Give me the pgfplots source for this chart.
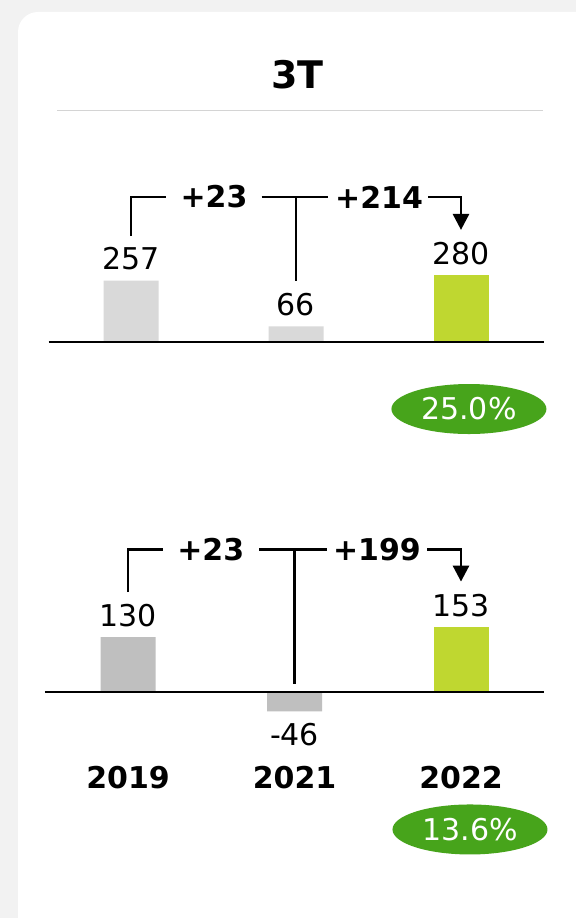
\documentclass[border=0pt]{standalone}
\usepackage{fontspec}
\setmainfont{DejaVu Sans}
\usepackage{pgfplots}
\pgfplotsset{compat=1.18}
\usetikzlibrary{arrows.meta,shapes.geometric}
\definecolor{cardbg}{HTML}{F2F2F2}
\definecolor{barA}{HTML}{D9D9D9}
\definecolor{barB}{HTML}{BFBFBF}
\definecolor{lime}{HTML}{BFD730}
\definecolor{pillgreen}{HTML}{47A41B}
\definecolor{rulegray}{HTML}{D4D4D4}
\begin{document}
\begin{tikzpicture}[x=1pt,y=1pt]
\useasboundingbox (0,0) rectangle (576,918);
\fill[cardbg] (0,0) rectangle (576,918);
\fill[white, rounded corners=20pt] (18,-30) rectangle (600,906);
\node[font=\bfseries\fontsize{38}{40}\selectfont, inner sep=0] at (297.5,843.5) {3T};
\draw[rulegray, line width=1pt] (57,807) -- (543,807);
\coordinate (c1) at (48.5,556.92);
\coordinate (c2) at (44.75,183.7);

\tikzset{conn/.style={line width=2.8pt, black},
  lbl/.style={font=\fontsize{30}{32}\selectfont, inner sep=0, anchor=base},
  dlt/.style={font=\bfseries\fontsize{30}{32}\selectfont, inner sep=0},
  pill/.style={ellipse, fill=pillgreen, minimum width=155pt, minimum height=50pt, inner sep=0, text=white, font=\fontsize{30}{32}\selectfont}}

% ---- chart 1 ----
\begin{axis}[at={(c1)}, anchor=south west, x=165pt, y=0.2385pt,
  xmin=-0.5, xmax=2.5, ymin=-80, ymax=650, hide axis, clip=false,
  ybar, bar width=55pt]
\addplot[fill=barA, draw=none, bar shift=0pt] coordinates {(0,257) (1,66)};
\addplot[fill=lime, draw=none, bar shift=0pt] coordinates {(2,280)};
\draw[line width=2.2pt] (axis cs:-0.5,0) -- (axis cs:2.5,0);
\draw[conn] (axis cs:0,444) |- (axis cs:0.212,608);
\draw[conn] (axis cs:0.792,608) -- (axis cs:1.194,608);
\draw[conn] (axis cs:1,608) -- (axis cs:1,256);
\draw[conn, -{Triangle[width=16pt,length=16pt]}] (axis cs:1.8,608) -| (axis cs:2,470);
\node[dlt] at (axis cs:0.503,608) {+23};
\node[dlt] at (axis cs:1.503,608) {+214};
\node[lbl, yshift=11pt] at (axis cs:0,257) {257};
\node[lbl, yshift=11pt] at (axis cs:1,66) {66};
\node[lbl, yshift=11pt] at (axis cs:2,280) {280};
\node[pill] at (axis cs:2.048,-281) {25.0\%};
\end{axis}

% ---- chart 2 ----
\begin{axis}[at={(c2)}, anchor=south west, x=166.5pt, y=0.423pt,
  xmin=-0.5, xmax=2.5, ymin=-100, ymax=360, hide axis, clip=false,
  ybar, bar width=55pt]
\addplot[fill=barB, draw=none, bar shift=0pt] coordinates {(0,130) (1,-46)};
\addplot[fill=lime, draw=none, bar shift=0pt] coordinates {(2,153)};
\draw[line width=2.2pt] (axis cs:-0.5,0) -- (axis cs:2.5,0);
\draw[conn] (axis cs:0,236) |- (axis cs:0.208,336);
\draw[conn] (axis cs:0.787,336) -- (axis cs:1.195,336);
\draw[conn] (axis cs:1,336) -- (axis cs:1,19);
\draw[conn, -{Triangle[width=16pt,length=16pt]}] (axis cs:1.796,336) -| (axis cs:2,261);
\node[dlt] at (axis cs:0.497,336) {+23};
\node[dlt] at (axis cs:1.495,336) {+199};
\node[lbl, yshift=10.5pt] at (axis cs:0,130) {130};
\node[lbl, yshift=-34pt] at (axis cs:1,-46) {-46};
\node[lbl, yshift=11pt] at (axis cs:2,153) {153};
\node[lbl, font=\bfseries\fontsize{30}{32}\selectfont] at (axis cs:0,-227) {2019};
\node[lbl, font=\bfseries\fontsize{30}{32}\selectfont] at (axis cs:1,-227) {2021};
\node[lbl, font=\bfseries\fontsize{30}{32}\selectfont] at (axis cs:2,-227) {2022};
\node[pill] at (axis cs:2.054,-325) {13.6\%};
\end{axis}
\end{tikzpicture}
\end{document}
